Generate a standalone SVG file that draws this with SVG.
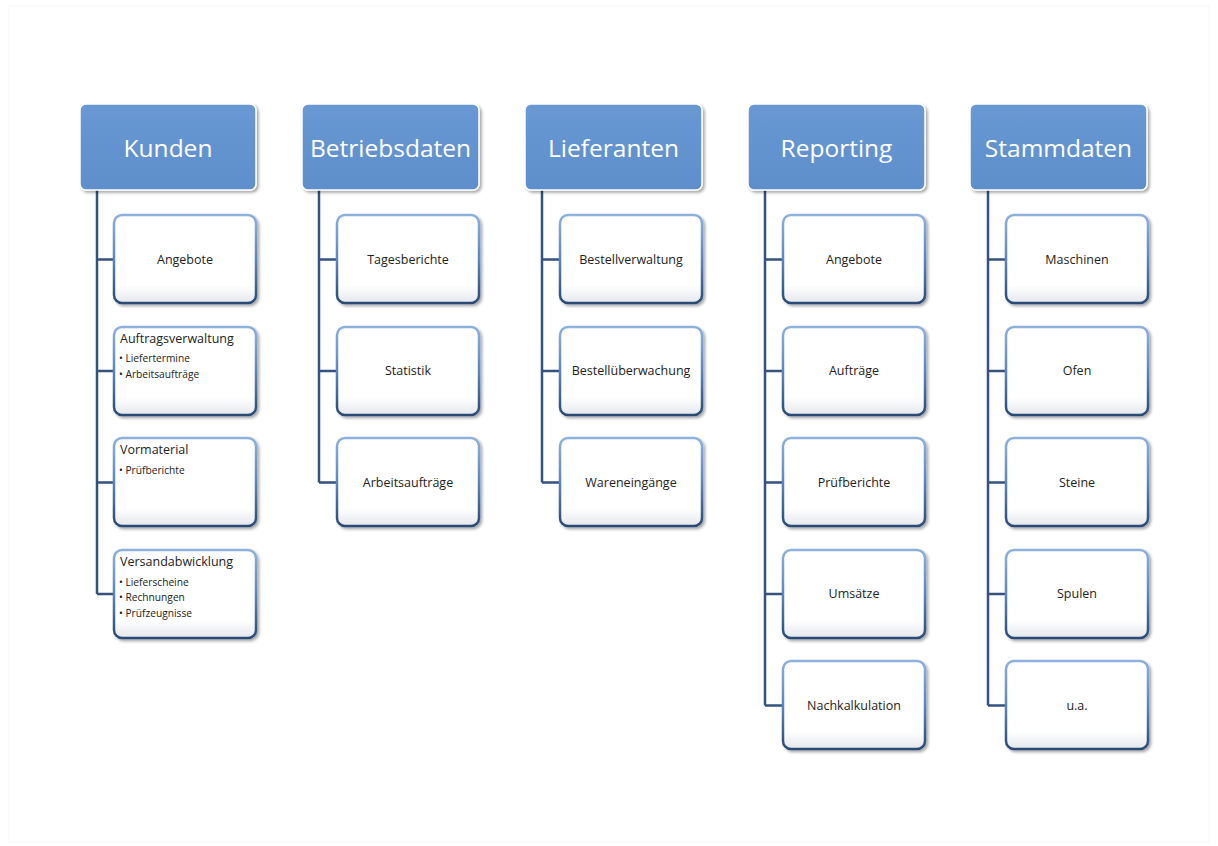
<svg xmlns="http://www.w3.org/2000/svg" width="1218" height="846" viewBox="0 0 1218 846">
<defs>
<linearGradient id="gStroke" x1="0" y1="0" x2="0" y2="1">
<stop offset="0" stop-color="#8db0dd"/>
<stop offset="0.5" stop-color="#5a86bf"/>
<stop offset="1" stop-color="#2a4a75"/>
</linearGradient>
<linearGradient id="gFill" x1="0" y1="0" x2="0" y2="1">
<stop offset="0" stop-color="#ffffff"/>
<stop offset="0.8" stop-color="#ffffff"/>
<stop offset="1" stop-color="#e4e7ec"/>
</linearGradient>
<linearGradient id="gHead" x1="0" y1="0" x2="0" y2="1">
<stop offset="0" stop-color="#6898d2"/>
<stop offset="1" stop-color="#5f8fcb"/>
</linearGradient>
<filter id="sh" x="-10%" y="-10%" width="125%" height="130%">
<feGaussianBlur in="SourceAlpha" stdDeviation="1.5"/>
<feOffset dx="2" dy="2" result="b"/>
<feComponentTransfer><feFuncA type="linear" slope="0.35"/></feComponentTransfer>
<feMerge><feMergeNode/><feMergeNode in="SourceGraphic"/></feMerge>
</filter>
</defs>
<style>
.head rect{fill:url(#gHead);stroke:#ffffff;stroke-width:1.5;filter:url(#sh)}
.head text{fill:#ffffff;font-family:"Open Sans","Liberation Sans",sans-serif;font-size:24.5px;text-anchor:middle}
.child rect{fill:url(#gFill);stroke:url(#gStroke);stroke-width:2.5;filter:url(#sh)}
.child text{fill:#222222;font-family:"Open Sans","Liberation Sans",sans-serif;font-size:12.5px}
.child text.c{text-anchor:middle}
.child text.t{font-size:12.5px}
.child text.b{font-size:10.2px}
#connectors path{fill:none;stroke:#34527c;stroke-width:2.5}
</style>
<rect x="9" y="6" width="1200" height="836" fill="#ffffff" stroke="#f8f8f8" stroke-width="1"/>

<g id="connectors">
<path d="M97 190 V594 M97 259.5 H114 M97 371 H114 M97 482.5 H114 M97 594 H114"/>
<path d="M319 190 V482.5 M319 259.5 H337 M319 371 H337 M319 482.5 H337"/>
<path d="M542 190 V482.5 M542 259.5 H560 M542 371 H560 M542 482.5 H560"/>
<path d="M765 190 V705.5 M765 259.5 H783 M765 371 H783 M765 482.5 H783 M765 594 H783 M765 705.5 H783"/>
<path d="M988 190 V705.5 M988 259.5 H1006 M988 371 H1006 M988 482.5 H1006 M988 594 H1006 M988 705.5 H1006"/>
</g>

<g id="kunden" class="head"><rect x="80" y="104" width="176" height="86" rx="6"/><text x="168" y="157">Kunden</text></g>
<g id="betriebsdaten" class="head"><rect x="302" y="104" width="177" height="86" rx="6"/><text x="390.5" y="157">Betriebsdaten</text></g>
<g id="lieferanten" class="head"><rect x="525" y="104" width="177" height="86" rx="6"/><text x="613.5" y="157">Lieferanten</text></g>
<g id="reporting" class="head"><rect x="748" y="104" width="177" height="86" rx="6"/><text x="836.5" y="157">Reporting</text></g>
<g id="stammdaten" class="head"><rect x="970" y="104" width="177" height="86" rx="6"/><text x="1058.5" y="157">Stammdaten</text></g>

<g id="k1" class="child"><rect x="114" y="215" width="142" height="88" rx="8"/><text class="c" x="185" y="264">Angebote</text></g>
<g id="k2" class="child"><rect x="114" y="327" width="142" height="88" rx="8"/><text class="t" x="120" y="343">Auftragsverwaltung</text><text class="b" x="119" y="362">• Liefertermine</text><text class="b" x="119" y="378">• Arbeitsaufträge</text></g>
<g id="k3" class="child"><rect x="114" y="438" width="142" height="88" rx="8"/><text class="t" x="120" y="454">Vormaterial</text><text class="b" x="119" y="474">• Prüfberichte</text></g>
<g id="k4" class="child"><rect x="114" y="550" width="142" height="88" rx="8"/><text class="t" x="120" y="566">Versandabwicklung</text><text class="b" x="119" y="586">• Lieferscheine</text><text class="b" x="119" y="601">• Rechnungen</text><text class="b" x="119" y="617">• Prüfzeugnisse</text></g>

<g id="b1" class="child"><rect x="337" y="215" width="142" height="88" rx="8"/><text class="c" x="408" y="264">Tagesberichte</text></g>
<g id="b2" class="child"><rect x="337" y="327" width="142" height="88" rx="8"/><text class="c" x="408" y="375">Statistik</text></g>
<g id="b3" class="child"><rect x="337" y="438" width="142" height="88" rx="8"/><text class="c" x="408" y="487">Arbeitsaufträge</text></g>

<g id="l1" class="child"><rect x="560" y="215" width="142" height="88" rx="8"/><text class="c" x="631" y="264">Bestellverwaltung</text></g>
<g id="l2" class="child"><rect x="560" y="327" width="142" height="88" rx="8"/><text class="c" x="631" y="375">Bestellüberwachung</text></g>
<g id="l3" class="child"><rect x="560" y="438" width="142" height="88" rx="8"/><text class="c" x="631" y="487">Wareneingänge</text></g>

<g id="r1" class="child"><rect x="783" y="215" width="142" height="88" rx="8"/><text class="c" x="854" y="264">Angebote</text></g>
<g id="r2" class="child"><rect x="783" y="327" width="142" height="88" rx="8"/><text class="c" x="854" y="375">Aufträge</text></g>
<g id="r3" class="child"><rect x="783" y="438" width="142" height="88" rx="8"/><text class="c" x="854" y="487">Prüfberichte</text></g>
<g id="r4" class="child"><rect x="783" y="550" width="142" height="88" rx="8"/><text class="c" x="854" y="598">Umsätze</text></g>
<g id="r5" class="child"><rect x="783" y="661" width="142" height="88" rx="8"/><text class="c" x="854" y="710">Nachkalkulation</text></g>

<g id="s1" class="child"><rect x="1006" y="215" width="142" height="88" rx="8"/><text class="c" x="1077" y="264">Maschinen</text></g>
<g id="s2" class="child"><rect x="1006" y="327" width="142" height="88" rx="8"/><text class="c" x="1077" y="375">Ofen</text></g>
<g id="s3" class="child"><rect x="1006" y="438" width="142" height="88" rx="8"/><text class="c" x="1077" y="487">Steine</text></g>
<g id="s4" class="child"><rect x="1006" y="550" width="142" height="88" rx="8"/><text class="c" x="1077" y="598">Spulen</text></g>
<g id="s5" class="child"><rect x="1006" y="661" width="142" height="88" rx="8"/><text class="c" x="1077" y="710">u.a.</text></g>
</svg>
